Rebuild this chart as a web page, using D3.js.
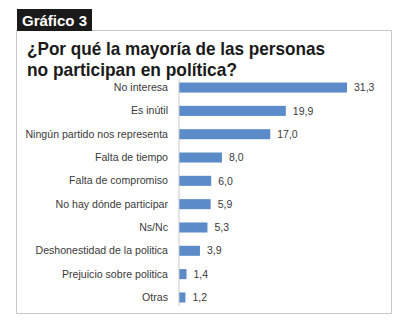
<!DOCTYPE html>
<html>
<head>
<meta charset="utf-8">
<script src="https://cdn.jsdelivr.net/npm/d3@7"></script>
<style>
  body { margin: 0; background: #fff; }
</style>
</head>
<body>
<div id="chart"></div>
<script>
var categories = ['No interesa', 'Es inútil', 'Ningún partido nos representa', 'Falta de tiempo',
  'Falta de compromiso', 'No hay dónde participar', 'Ns/Nc', 'Deshonestidad de la politica',
  'Prejuicio sobre politica', 'Otras']
var values = [31.3, 19.9, 17.0, 8.0, 6.0, 5.9, 5.3, 3.9, 1.4, 1.2]

var svg = d3.select('#chart').append('svg')
    .attr('width', 400)
    .attr('height', 325)

// frame
svg.append('rect')
    .attr('x', 16.5).attr('y', 30.5)
    .attr('width', 375).attr('height', 283)
    .attr('fill', '#fff')
    .attr('stroke', '#c8c8c8')

// "Gráfico 3" tag
svg.append('rect')
    .attr('x', 17).attr('y', 9)
    .attr('width', 75).attr('height', 22)
    .attr('fill', '#1a1a1a')
svg.append('text')
    .text('Gráfico 3')
    .attr('x', 22).attr('y', 26)
    .attr('fill', '#fff')
    .attr('font-family', 'Liberation Sans, Arial, sans-serif')
    .attr('font-weight', 'bold')
    .attr('font-size', 15)

var title = svg.append('text')
    .attr('font-family', 'Liberation Sans, Arial, sans-serif')
    .attr('font-weight', 'bold')
    .attr('font-size', 18.5)
    .attr('fill', '#1a1a1a')
title.append('tspan').attr('x', 27).attr('y', 55)
    .attr('textLength', 298).attr('lengthAdjust', 'spacingAndGlyphs')
    .text('¿Por qué la mayoría de las personas')
title.append('tspan').attr('x', 27).attr('y', 76)
    .attr('textLength', 210).attr('lengthAdjust', 'spacingAndGlyphs')
    .text('no participan en política?')

var x = d3.scaleLinear().domain([0, 31.3]).range([179, 347])
var y = d3.scaleBand().domain(categories).range([76, 309]).paddingInner(0.57).paddingOuter(0.28)

var g = svg.append('g')

g.selectAll('rect.bar')
    .data(values)
    .enter().append('rect')
    .attr('class', 'bar')
    .attr('x', x(0))
    .attr('y', (d, i) => y(categories[i]))
    .attr('width', d => x(d) - x(0))
    .attr('height', y.bandwidth())
    .attr('fill', '#5b8bc8')

var axis = g.append('g')
    .attr('transform', 'translate(' + x(0) + ',0)')
    .call(d3.axisLeft(y).tickSize(0).tickPadding(11))
axis.select('.domain')
    .attr('stroke', '#c8c8c8')
    .attr('d', 'M0,' + 79 + 'V' + 306)
axis.selectAll('text')
    .attr('font-family', 'Liberation Sans, Arial, sans-serif')
    .attr('font-size', 10.6)
    .attr('fill', '#3a3a3a')

g.selectAll('text.val')
    .data(values)
    .enter().append('text')
    .attr('class', 'val')
    .attr('x', d => x(d) + 7)
    .attr('y', (d, i) => y(categories[i]) + y.bandwidth() / 2)
    .attr('dy', '0.35em')
    .attr('font-family', 'Liberation Sans, Arial, sans-serif')
    .attr('font-size', 10.5)
    .attr('fill', '#3a3a3a')
    .text(d => d.toFixed(1).replace('.', ','))
</script>
</body>
</html>
